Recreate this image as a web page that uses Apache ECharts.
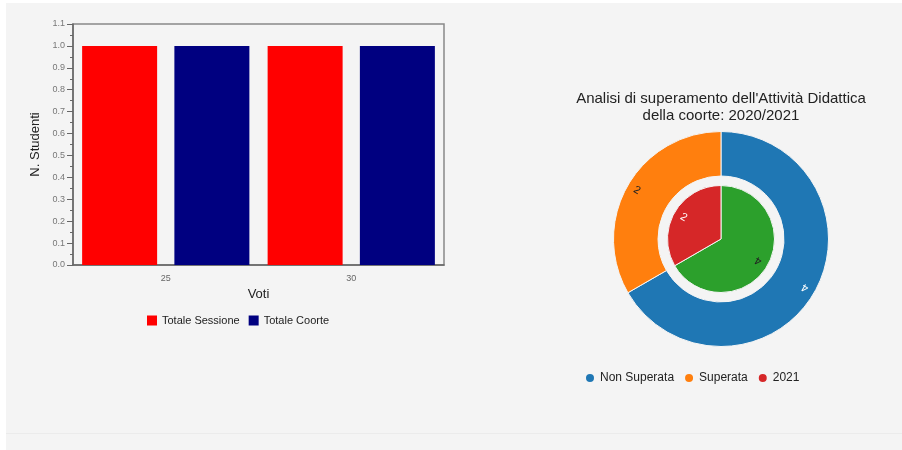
<!DOCTYPE html>
<html>
<head>
<meta charset="utf-8">
<title>Voti e superamento</title>
<script src="https://cdn.jsdelivr.net/npm/echarts@6/dist/echarts.min.js"></script>
<style>
  html, body { margin: 0; padding: 0; background: #ffffff; }
  #panel { position: absolute; left: 6px; top: 3px; width: 896px; height: 447px; background: #f4f4f4; }
  #rule { position: absolute; left: 6px; top: 433px; width: 896px; height: 1px; background: #ebebeb; }
  #chart { position: absolute; left: 0; top: 0; width: 902px; height: 450px; }
</style>
</head>
<body>
<div id="panel"></div>
<div id="rule"></div>
<div id="chart"></div>
<script>
// Grade distribution
const voti = ['25', '30'];
const totaleSessione = [1, 1];
const totaleCoorte = [1, 1];
const yTicks = [0, 0.1, 0.2, 0.3, 0.4, 0.5, 0.6, 0.7, 0.8, 0.9, 1.0, 1.1];

// Pass analysis for the cohort
const esitoNomi = ['Non Superata', 'Superata'];
const esitoValori = [4, 2];
const annoNomi = ['2020', '2021'];
const annoValori = [4, 2];
const legendaTorta = ['Non Superata', 'Superata', '2021'];

const esitoColori = ['#1f77b4', '#ff7f0e'];
const annoColori = ['#2ca02c', '#d62728'];
const esitoEtichette = ['#ffffff', '#222222'];
const annoEtichette = ['#222222', '#ffffff'];

const FONT = '"Liberation Sans", Arial, sans-serif';

function items(names, values, colors) {
  return names.map((n, i) => ({ name: n, value: values[i], itemStyle: { color: colors[i] } }));
}

// Each value label is turned by its slice's mid angle (clockwise from 12 o'clock) plus 90°
function labelItems(names, values, labelColors) {
  const total = values.reduce((a, b) => a + b, 0);
  let acc = 0;
  return names.map((n, i) => {
    const mid = (acc + values[i] / 2) / total * 360;
    acc += values[i];
    const cw = mid + 90;               // clockwise screen rotation
    return {
      name: n, value: values[i],
      itemStyle: { color: 'rgba(0,0,0,0)' },
      label: { color: labelColors[i], rotate: -cw }
    };
  });
}

const chart = echarts.init(document.getElementById('chart'), null, { renderer: 'canvas' });

const labelBase = {
  show: true, position: 'inside',
  fontSize: 11, fontFamily: FONT, formatter: '{c}'
};

chart.setOption({
  animation: false,
  backgroundColor: 'transparent',
  textStyle: { fontFamily: FONT },
  graphic: [{
    type: 'text', x: 721, y: 90,
    style: {
      text: "Analisi di superamento dell'Attività Didattica\ndella coorte: 2020/2021",
      textAlign: 'center', fill: '#222222', fontSize: 15, lineHeight: 17, fontFamily: FONT
    }
  }],
  legend: [
    {
      data: ['Totale Sessione', 'Totale Coorte'],
      left: 142, top: 310, icon: 'rect', itemWidth: 10, itemHeight: 10, itemGap: 9,
      textStyle: { fontSize: 11, color: '#222', fontFamily: FONT }
    },
    {
      data: legendaTorta,
      left: 579, top: 367, icon: 'circle', itemWidth: 10, itemHeight: 10, itemGap: 9,
      textStyle: { fontSize: 12, color: '#222', fontFamily: FONT }
    }
  ],
  grid: {
    left: 73, top: 24, width: 371, height: 241,
    show: true, borderColor: '#888', borderWidth: 1.5, backgroundColor: 'transparent'
  },
  xAxis: {
    type: 'category', data: voti,
    name: 'Voti', nameLocation: 'middle', nameGap: 20,
    nameTextStyle: { fontSize: 13, color: '#222', fontFamily: FONT },
    axisLine: { lineStyle: { color: '#666', width: 1.5 } },
    axisTick: { alignWithLabel: true, length: 5, lineStyle: { color: '#666' } },
    axisLabel: { fontSize: 9, color: '#666', margin: 9, fontFamily: FONT },
    splitLine: { show: false }
  },
  yAxis: {
    type: 'value', min: yTicks[0], max: yTicks[yTicks.length - 1], interval: 0.1,
    name: 'N. Studenti', nameLocation: 'middle', nameGap: 31,
    nameTextStyle: { fontSize: 13, color: '#222', fontFamily: FONT },
    axisLine: { show: true, lineStyle: { color: '#666', width: 1.5 } },
    axisTick: { show: true, length: 6, lineStyle: { color: '#666' } },
    minorTick: { show: true, splitNumber: 2, length: 3, lineStyle: { color: '#666' } },
    axisLabel: { fontSize: 9, color: '#777', margin: 8, fontFamily: FONT,
      formatter: v => v.toFixed(1) },
    splitLine: { show: false }
  },
  series: [
    {
      name: 'Totale Sessione', type: 'bar', data: totaleSessione,
      barWidth: 75, barGap: '23%', itemStyle: { color: '#ff0000' }
    },
    {
      name: 'Totale Coorte', type: 'bar', data: totaleCoorte,
      barWidth: 75, itemStyle: { color: '#000080' }
    },
    {
      type: 'pie', center: [721, 239], radius: [63, 107.5],
      startAngle: 90, clockwise: true,
      data: items(esitoNomi, esitoValori, esitoColori),
      itemStyle: { borderColor: '#f4f4f4', borderWidth: 1 },
      label: { show: false }, labelLine: { show: false }, emphasis: { disabled: true }
    },
    {
      type: 'pie', center: [721, 239], radius: [0, 53.5],
      startAngle: 90, clockwise: true,
      data: items(annoNomi, annoValori, annoColori),
      itemStyle: { borderColor: '#f4f4f4', borderWidth: 1 },
      label: { show: false }, labelLine: { show: false }, emphasis: { disabled: true }
    },
    // value labels, placed on rings sitting inside the slices
    {
      type: 'pie', center: [721, 239], radius: [88, 100], silent: true,
      startAngle: 90, clockwise: true,
      data: labelItems(esitoNomi, esitoValori, esitoEtichette),
      label: labelBase, labelLine: { show: false }
    },
    {
      type: 'pie', center: [721, 239], radius: [34, 46], silent: true,
      startAngle: 90, clockwise: true,
      data: labelItems(annoNomi, annoValori, annoEtichette),
      label: labelBase, labelLine: { show: false }
    }
  ]
});
</script>
</body>
</html>
